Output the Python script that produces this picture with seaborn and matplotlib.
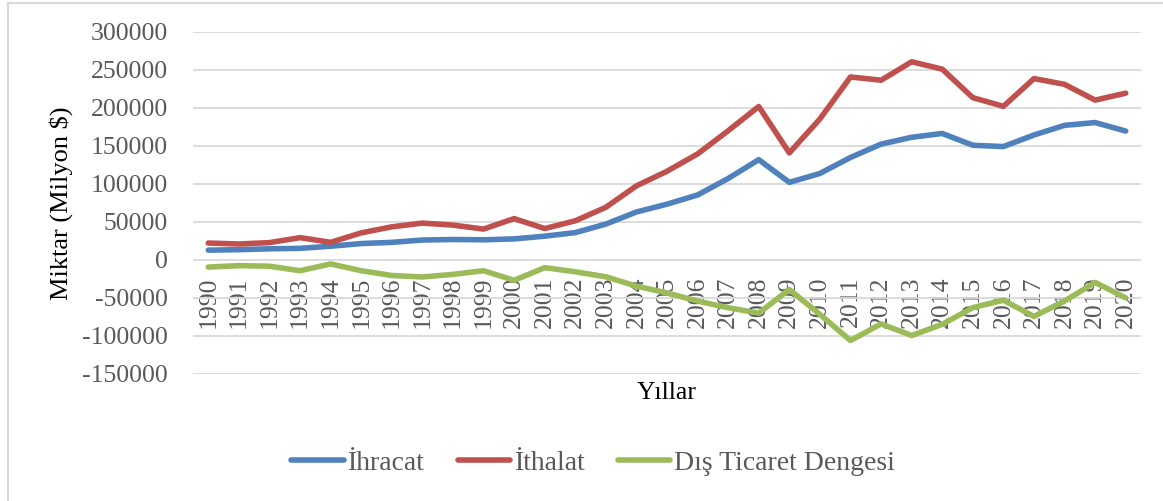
import matplotlib
matplotlib.use("Agg")
import matplotlib.pyplot as plt
import seaborn as sns
import pandas as pd
from matplotlib.patches import Rectangle

years = [str(y) for y in range(1990, 2021)]
ihracat = [12959, 13594, 14715, 15345, 18106, 21637, 23225, 26261, 26974, 26587,
           27775, 31334, 36059, 47253, 63167, 73476, 85535, 107272, 132027, 102143,
           113883, 134907, 152462, 161481, 166505, 150982, 149247, 164495, 177169,
           180833, 169638]
ithalat = [22302, 21047, 22871, 29428, 23270, 35709, 43627, 48559, 45921, 40671,
           54503, 41399, 51554, 69340, 97540, 116774, 139576, 170063, 201964, 140928,
           185544, 240842, 236545, 260823, 251142, 213619, 202189, 238715, 231152,
           210345, 219517]
denge = [-9343, -7453, -8156, -14083, -5164, -14072, -20402, -22298, -18947, -14084,
         -26728, -10065, -15495, -22087, -34373, -43298, -54041, -62791, -69937, -38785,
         -71661, -105935, -84083, -99342, -84637, -62637, -52942, -74220, -53983,
         -29512, -49879]
series_names = ["İhracat", "İthalat", "Dış Ticaret Dengesi"]
colors = ["#4F81BD", "#C0504D", "#9BBB59"]

df = pd.DataFrame({"Yıl": years * 3,
                   "Değer": ihracat + ithalat + denge,
                   "Seri": [series_names[0]] * 31 + [series_names[1]] * 31 + [series_names[2]] * 31})

sns.set_theme(style="white")
plt.rcParams["font.family"] = ["Liberation Serif", "DejaVu Serif"]
plt.rcParams["axes.unicode_minus"] = False

fig = plt.figure(figsize=(11.63, 5.01), dpi=100)
ax = fig.add_axes([193/1163, 1 - 374/501, (1141 - 193)/1163, (374 - 32)/501])

# outer chart border (left and top visible)
fig.patches.append(Rectangle((8/1163, -0.1), 1.2, 1 - 3/501 + 0.1, transform=fig.transFigure,
                             fill=False, edgecolor="#D9D9D9", linewidth=1.5, zorder=0))

ax.set_ylim(-150000, 300000)
ax.set_xlim(-0.5, 30.5)
ax.set_yticks(range(-150000, 300001, 50000))
ax.yaxis.grid(True, color="#D9D9D9", linewidth=1.3)
ax.set_axisbelow(True)

sns.lineplot(data=df, x="Yıl", y="Değer", hue="Seri", palette=colors, linewidth=4.0,
             ax=ax, legend=False, sort=False)
for ln in ax.lines:
    ln.set_solid_capstyle("round")
    ln.set_solid_joinstyle("round")

for s in ax.spines.values():
    s.set_visible(False)
ax.spines["bottom"].set_position(("data", 0))

ax.tick_params(axis="x", length=0, pad=12, labelsize=18.5, labelcolor="#595959", rotation=90)
ax.tick_params(axis="y", length=0, pad=18, labelsize=18.5, labelcolor="#595959")
for t in ax.get_xticklabels():
    t.set_va("top")

ax.set_ylabel("Miktar (Milyon $)", fontsize=19, color="black")
ax.yaxis.set_label_coords(-0.127, 0.5)
ax.set_xlabel("Yıllar", fontsize=18.5, color="black")
ax.xaxis.set_label_coords(0.5, -0.022)

handles = [plt.Line2D([], [], color=c, linewidth=4.0, solid_capstyle="round") for c in colors]
leg = fig.legend(handles, series_names, loc="center", bbox_to_anchor=(593/1163, 1 - 463/501),
                 ncol=3, frameon=False, fontsize=20, handlelength=1.9, handletextpad=0.12,
                 columnspacing=1.2)
for t in leg.get_texts():
    t.set_color("#595959")

fig.savefig("out.png", dpi=100)
